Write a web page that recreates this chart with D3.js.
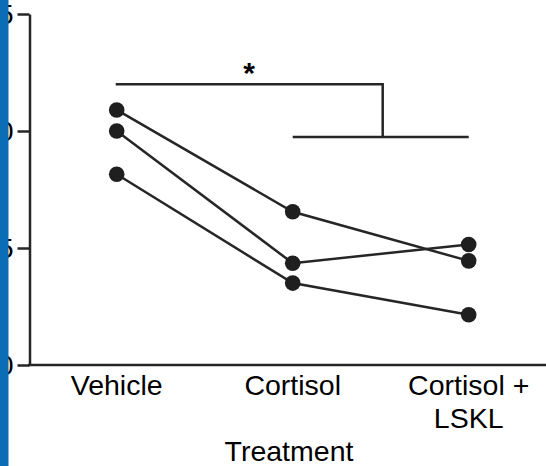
<!DOCTYPE html>
<html><head><meta charset="utf-8">
<script src="https://cdn.jsdelivr.net/npm/d3@7"></script>
<style>html,body{margin:0;padding:0;background:#fff;}svg{display:block;}</style>
</head><body>
<script>
const categories = ["Vehicle", "Cortisol", "Cortisol +\nLSKL"];
const subjectA = [10.9, 6.55, 4.45];
const subjectB = [10.0, 4.35, 5.15];
const subjectC = [8.15, 3.5, 2.15];
const yTicks = [0, 5, 10, 15];
const xTitle = "Treatment";
const sigLabel = "*";

const W = 546, H = 466;
const svg = d3.select("body").append("svg").attr("width", W).attr("height", H);
const ink = "#262626";
const font = "'Liberation Sans', Arial, sans-serif";
const fs = 28.5;

const x = d3.scalePoint().domain(categories).range([116.7, 468.7]);
const y = d3.scaleLinear().domain([0, 15]).range([365, 14]);

// y axis
const yAxis = svg.append("g").attr("transform", "translate(29.5,0)")
  .call(d3.axisLeft(y).tickValues(yTicks).tickSize(12).tickPadding(4).tickSizeOuter(0));
yAxis.select(".domain").attr("stroke", ink).attr("stroke-width", 2.5);
yAxis.selectAll(".tick line").attr("stroke", ink).attr("stroke-width", 2.5);
yAxis.selectAll(".tick text").attr("font-family", font).attr("font-size", fs).attr("fill", "#000").attr("dy", "0.35em");

// x axis line
svg.append("line").attr("x1", 28).attr("x2", W).attr("y1", y(0)).attr("y2", y(0))
  .attr("stroke", ink).attr("stroke-width", 2.5);

// x labels
categories.forEach(c => {
  const lines = c.split("\n");
  const t = svg.append("text").attr("x", x(c)).attr("y", 395)
    .attr("text-anchor", "middle").attr("font-family", font).attr("font-size", fs).attr("fill", "#000");
  lines.forEach((l, i) => t.append("tspan").attr("x", x(c)).attr("dy", i ? 33 : 0).text(l));
});
svg.append("text").attr("x", 289).attr("y", 461).attr("text-anchor", "middle")
  .attr("font-family", font).attr("font-size", fs).attr("fill", "#000").text(xTitle);

// series
const series = [subjectA, subjectB, subjectC];
const line = d3.line().x((d, i) => x(categories[i])).y(d => y(d));
series.forEach(s => {
  svg.append("path").attr("d", line(s)).attr("fill", "none").attr("stroke", ink).attr("stroke-width", 2.5);
});
series.forEach(s => {
  svg.selectAll(null).data(s).enter().append("circle")
    .attr("cx", (d, i) => x(categories[i])).attr("cy", d => y(d)).attr("r", 7.8).attr("fill", "#1f1f1f");
});

// significance bracket
const topY = 84.3, lowY = 137;
const midX = 382.7;
svg.append("path")
  .attr("d", `M${x(categories[0]) - 1},${topY}H${midX}V${lowY}M${x(categories[1])},${lowY}H${x(categories[2])}`)
  .attr("fill", "none").attr("stroke", ink).attr("stroke-width", 2.5);
svg.append("text").attr("x", 249).attr("y", 83).attr("text-anchor", "middle")
  .attr("font-family", font).attr("font-size", 30).attr("font-weight", "bold").attr("fill", "#000").text(sigLabel);

// blue side bar
svg.append("rect").attr("x", 0).attr("y", 0).attr("width", 8.5).attr("height", H).attr("fill", "#0a6db5");
</script>
</body></html>
